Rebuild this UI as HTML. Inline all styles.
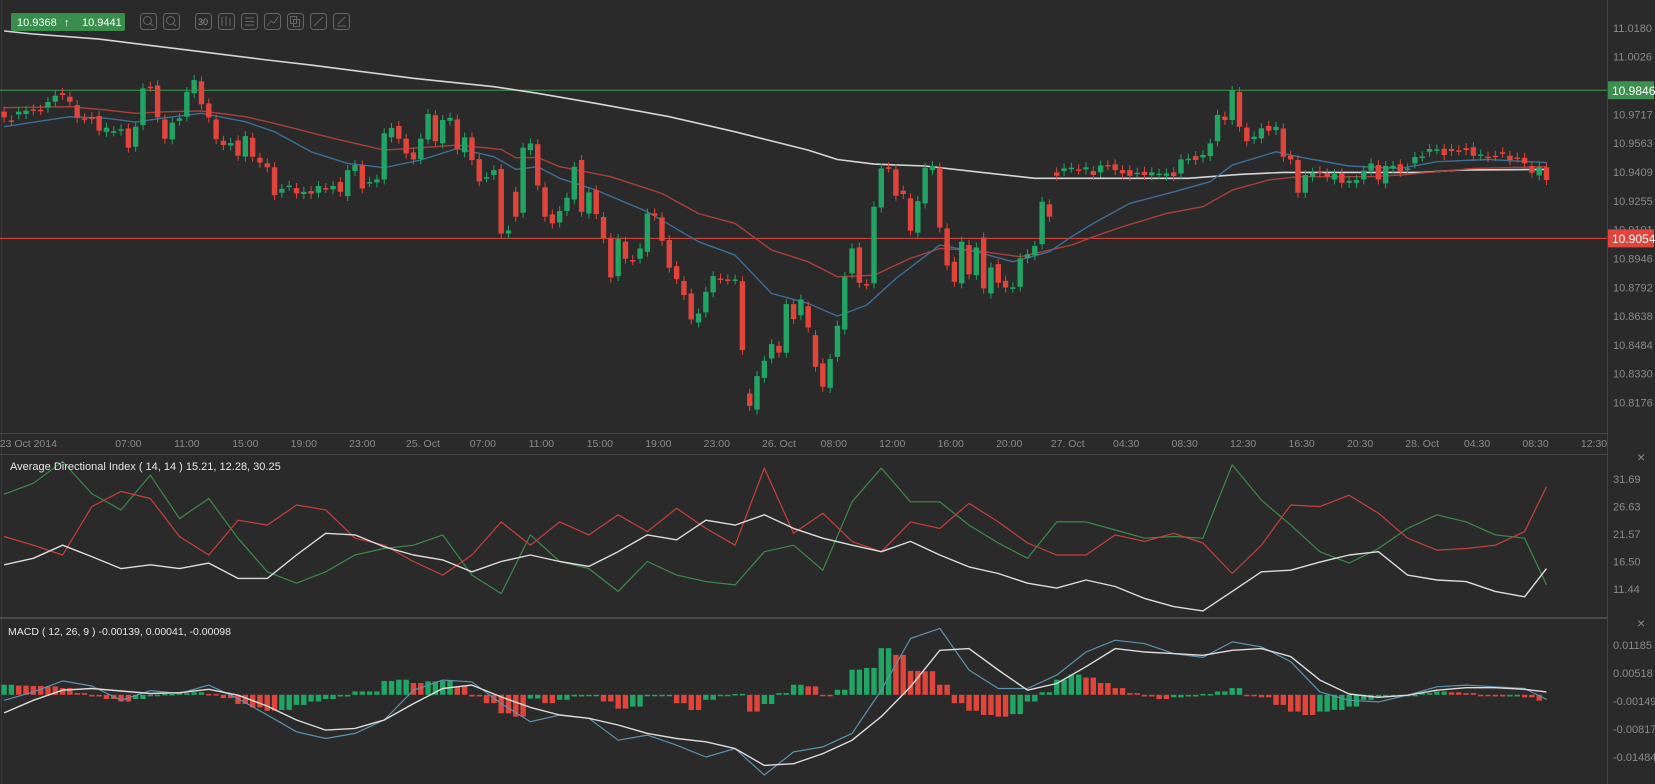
<!DOCTYPE html>
<html><head><meta charset="utf-8"><style>
html,body{margin:0;padding:0;background:#2a2a2a;}
svg{display:block;font-family:"Liberation Sans",sans-serif;}
</style></head><body>
<svg id="chart" width="1655" height="784" viewBox="0 0 1655 784">
<rect x="0" y="0" width="1655" height="784" fill="#2a2a2a"/>
<g id="grid">
<line x1="1607.5" y1="0" x2="1607.5" y2="784" stroke="#444" stroke-width="1"/>
<line x1="1.5" y1="0" x2="1.5" y2="784" stroke="#3a3a3a" stroke-width="1"/>
<line x1="0" y1="433.5" x2="1607" y2="433.5" stroke="#444" stroke-width="1"/>
<line x1="0" y1="454.5" x2="1607" y2="454.5" stroke="#444" stroke-width="1"/>
<line x1="0" y1="618" x2="1607" y2="618" stroke="#4a4a4a" stroke-width="2"/>
</g>
<g id="main"></g>
<g id="adx"></g>
<g id="macd"></g>
<g id="axes"></g>
<g>
<rect x="11" y="13" width="114" height="18" rx="2" fill="#3a8e4c"/>
<text x="17" y="26" fill="#fff" font-size="11">10.9368</text>
<text x="64" y="26" fill="#fff" font-size="11">↑</text>
<text x="82" y="26" fill="#fff" font-size="11">10.9441</text>
<g fill="none" stroke="#666" stroke-width="1">
<rect x="140.5" y="13.5" width="16" height="16" rx="3"/>
<rect x="163.5" y="13.5" width="16" height="16" rx="3"/>
<rect x="195.5" y="13.5" width="16" height="16" rx="3"/>
<rect x="218.5" y="13.5" width="16" height="16" rx="3"/>
<rect x="241.5" y="13.5" width="16" height="16" rx="3"/>
<rect x="264.5" y="13.5" width="16" height="16" rx="3"/>
<rect x="287.5" y="13.5" width="16" height="16" rx="3"/>
<rect x="310.5" y="13.5" width="16" height="16" rx="3"/>
<rect x="333.5" y="13.5" width="16" height="16" rx="3"/>
<circle cx="147.5" cy="20.5" r="4"/><line x1="150" y1="23" x2="153" y2="26"/>
<circle cx="170.5" cy="20.5" r="4"/><line x1="173" y1="23" x2="176" y2="26"/>
<line x1="245" y1="18" x2="254" y2="18"/><line x1="245" y1="21.5" x2="254" y2="21.5"/><line x1="245" y1="25" x2="254" y2="25"/>
<polyline points="267,26 271,21 274,23 278,17"/>
<rect x="290.5" y="16.5" width="6" height="7"/><rect x="293.5" y="19.5" width="6" height="7"/>
<line x1="314" y1="26" x2="323" y2="17"/><line x1="337" y1="26" x2="346" y2="26"/><line x1="338" y1="24" x2="345" y2="17"/>
<line x1="222" y1="17" x2="222" y2="26"/><line x1="226" y1="16" x2="226" y2="26"/><line x1="230" y1="18" x2="230" y2="26"/>
</g>
<text x="198" y="25" fill="#999" font-size="9">30</text>
<text x="10" y="470" fill="#e6e6e6" font-size="11">Average Directional Index ( 14, 14 ) 15.21, 12.28, 30.25</text>
<text x="8" y="635" fill="#e6e6e6" font-size="10.5">MACD ( 12, 26, 9 ) -0.00139, 0.00041, -0.00098</text>
<text x="1637" y="462" fill="#888" font-size="14">×</text>
<text x="1637" y="628" fill="#888" font-size="14">×</text>
</g>
</svg>
<script>
// ---- price data (pips above 10.8000) ----
const openPips = [1732,1685,1717,1719,1744,1742,1753,1785,1831,1812,
1767,1696,1703,1708,1624,1626,1630,1642,1544,1660,
1865,1872,1690,1583,1683,1705,1830,1894,1776,1690,
1576,1551,1578,1491,1592,1485,1455,1434,1298,1335,
1323,1291,1307,1298,1323,1316,1355,1280,1414,1444,
1355,1353,1369,1594,1655,1587,1514,1478,1583,1712,
1562,1683,1690,1514,1594,1478,1380,1393,1425,1080,
1303,1191,1526,1558,1327,1182,1139,1200,1262,1473,
1187,1312,1168,1057,852,1036,938,945,982,1187,
1166,1045,905,825,759,604,658,765,839,834,
834,825,224,138,308,411,479,442,702,643,
691,536,385,254,420,566,866,1005,809,813,
1219,1434,1423,1309,1268,1084,1241,1419,1432,1107,
929,813,1018,857,1059,759,916,827,791,795,
947,964,1023,1236,1407,1414,1432,1423,1423,1414,
1407,1446,1450,1419,1419,1405,1410,1391,1400,1389,
1407,1401,1476,1494,1487,1494,1574,1705,1687,1837,
1646,1585,1589,1655,1633,1642,1496,1473,1298,1384,
1414,1401,1369,1401,1351,1351,1369,1416,1446,1348,
1428,1450,1428,1455,1492,1517,1530,1533,1532,1525,
1537,1541,1496,1491,1496,1514,1496,1487,1485,1441,
1391,1434];
const closePips = [1701,1684,1732,1737,1737,1741,1783,1817,1821,1785,
1699,1695,1692,1630,1646,1627,1637,1539,1651,1856,
1864,1701,1587,1673,1696,1837,1901,1771,1701,1585,
1553,1564,1496,1601,1491,1459,1434,1285,1319,1336,
1294,1303,1293,1334,1322,1334,1303,1419,1446,1321,
1355,1369,1616,1644,1587,1508,1476,1587,1719,1574,
1687,1699,1530,1594,1473,1359,1381,1419,1080,1096,
1170,1539,1562,1337,1170,1134,1200,1271,1437,1196,
1300,1184,1054,845,1050,945,937,1000,1187,1175,
1041,897,836,750,620,652,768,852,838,833,
834,456,158,317,399,488,443,702,622,727,
577,367,260,408,586,848,1000,816,808,1223,
1428,1433,1282,1291,1095,1253,1432,1441,1112,909,
822,1036,861,1005,786,898,816,791,792,947,
968,1013,1250,1170,1389,1428,1432,1422,1434,1393,
1444,1445,1419,1401,1389,1405,1393,1407,1400,1401,
1387,1476,1480,1473,1500,1562,1714,1687,1844,1651,
1574,1598,1642,1630,1651,1491,1476,1298,1393,1405,
1405,1384,1398,1351,1362,1366,1416,1455,1369,1441,
1442,1410,1428,1489,1492,1532,1530,1500,1521,1524,
1526,1496,1503,1490,1495,1513,1473,1486,1455,1405,
1434,1366];
// moving averages (candle index, pips)
const maSlowIdx = [0,4,13,25,36,42,56,67,73,81,91,100,110,114,119,126,133,141,146,162,169,175,194,199,211];
const maSlowVal = [2163,2147,2120,2062,2008,1981,1910,1865,1830,1776,1705,1624,1526,1476,1451,1441,1410,1375,1375,1375,1396,1407,1407,1419,1423];
const maMidIdx = [0,9,14,18,22,27,33,37,45,52,59,62,68,70,73,76,83,90,95,100,105,110,114,119,124,128,133,139,146,149,153,159,164,168,173,177,187,191,201,211];
const maMidVal = [1753,1758,1740,1723,1731,1735,1705,1669,1589,1526,1544,1553,1530,1485,1487,1437,1384,1294,1187,1134,991,929,848,857,947,1000,988,955,1018,1062,1116,1187,1223,1312,1366,1384,1384,1393,1428,1437];
const maFastIdx = [0,9,14,18,22,27,33,37,42,47,52,57,62,67,70,73,76,81,88,95,100,105,110,114,118,122,128,133,138,143,146,149,154,160,165,168,174,177,184,191,196,203,211];
const maFastVal = [1651,1705,1696,1676,1699,1723,1678,1624,1517,1455,1432,1473,1535,1491,1423,1437,1375,1312,1196,1036,964,759,706,638,697,839,1018,982,929,982,1062,1134,1241,1303,1357,1446,1517,1491,1441,1428,1464,1476,1459];
const priceTicks = ["11.0180","11.0026","10.9717","10.9563","10.9409","10.9255","10.9101","10.8946","10.8792","10.8638","10.8484","10.8330","10.8176"];
const resistance = 10.9846, support = 10.9054;
// ADX (sampled every 4 candles)
const adxPlus = [28.9,30.9,34.9,29.0,26.0,32.4,24.4,28.1,20.8,14.6,12.5,14.6,17.7,18.9,19.5,21.4,14.0,10.6,21.4,16.5,15.2,11.0,16.5,14.0,12.8,12.2,18.3,19.5,14.9,27.5,33.7,27.5,27.5,23.2,19.9,17.1,23.8,23.8,22.3,20.8,21.1,20.8,34.3,27.8,23.2,18.3,16.2,18.9,22.6,25.1,23.8,21.4,20.8,12.2];
const adxMinus = [21.1,19.5,17.7,26.6,29.4,28.1,21.1,17.7,24.1,23.2,26.9,26.0,20.8,19.5,16.5,14.0,17.7,23.8,19.5,23.8,21.4,25.1,22.0,26.3,22.6,19.5,33.7,21.7,25.4,20.2,18.3,23.8,22.6,27.2,23.8,19.9,17.7,17.7,21.4,20.2,21.7,19.9,14.3,19.5,26.9,26.6,28.7,25.4,20.8,18.6,18.9,19.5,22.0,30.3];
const adxLine = [15.9,17.1,19.5,17.4,15.2,15.9,15.2,16.2,13.4,13.4,17.7,21.7,21.4,19.2,17.7,16.8,14.6,16.5,17.7,16.5,15.6,18.3,21.4,20.5,24.1,23.2,25.1,22.6,20.8,19.5,18.3,20.2,17.7,15.5,14.3,12.5,11.6,13.1,11.9,9.7,8.2,7.4,11.0,14.6,14.9,16.4,17.7,18.3,14.0,13.1,12.8,11.0,10.0,15.2];
const adxTicks = ["31.69","26.63","21.57","16.50","11.44"];
// MACD (x1e-4), lines every 4 candles, histogram every 2 candles
const macdLine = [-13,7,33,21,-13,10,3,23,-9,-48,-88,-104,-92,-60,11,35,31,-21,-64,-48,-56,-108,-96,-120,-148,-128,-191,-136,-124,-92,11,134,158,59,15,15,47,102,130,122,98,89,126,114,79,7,-13,-17,-1,19,23,19,15,-11];
const signalLine = [-43,-13,11,15,9,3,5,13,-1,-27,-60,-84,-80,-60,-21,15,23,-5,-30,-48,-56,-72,-92,-104,-112,-128,-168,-164,-140,-108,-52,19,106,110,59,11,27,67,110,102,98,94,106,110,91,35,2,-6,-1,11,17,17,13,7];
const histVals = [24,22,21,20,16,4,-4,-10,-16,-10,-2,2,4,6,2,-8,-22,-30,-38,-36,-24,-16,-10,-4,8,8,33,36,28,32,33,20,-4,-20,-44,-52,-9,-20,-12,-4,-2,-16,-33,-28,-2,0,-20,-36,-12,-2,2,-40,-22,4,24,20,-2,12,60,64,111,95,57,56,24,-20,-38,-48,-52,-46,-16,6,36,48,41,28,16,4,-4,-10,-6,-4,2,8,16,-2,-6,-24,-40,-48,-40,-36,-28,-12,-6,-3,-2,4,8,6,4,-2,-4,-4,-6,-14];
const macdTicks = ["0.01185","0.00518","-0.00149","-0.00817","-0.01484"];
const timeLabels = ["23 Oct 2014","07:00","11:00","15:00","19:00","23:00","25. Oct","07:00","11:00","15:00","19:00","23:00","26. Oct","08:00","12:00","16:00","20:00","27. Oct","04:30","08:30","12:30","16:30","20:30","28. Oct","04:30","08:30","12:30"];
const timeSlots = [-0.6,17,25,33,41,49,57.3,65.5,73.5,81.5,89.5,97.5,106,113.5,121.5,129.5,137.5,145.5,153.5,161.5,169.5,177.5,185.5,194,201.5,209.5,217.5];

const NS = "http://www.w3.org/2000/svg";
const X0 = 4.1, DX = 7.31;
const x = i => X0 + DX * i;
const yP = p => 90.3 + (10.9846 - p) / 0.000535;
const yPip = w => yP(10.8 + w / 10000);
const yAdx = v => 479 + (31.69 - v) * 5.432;
const yMacd = m => 694.8 - m * 0.42;
function mk(tag, attrs, parent) { const e = document.createElementNS(NS, tag); for (const k in attrs) e.setAttribute(k, attrs[k]); parent.appendChild(e); return e; }
const main = document.getElementById('main'), adx = document.getElementById('adx'), macd = document.getElementById('macd'), axes = document.getElementById('axes');

// horizontal level lines
let l1 = mk('line', {x1:0, x2:1607, y1:yP(resistance), y2:yP(resistance), stroke:'#3f9a50', 'stroke-width':1}, main);


let l2 = mk('line', {x1:0, x2:1607, y1:yP(support), y2:yP(support), stroke:'#e0453c', 'stroke-width':1}, main);



function maPath(idx, val, color, w, name) {
  const d = idx.map((k, n) => (n ? 'L' : 'M') + x(k).toFixed(1) + ',' + yPip(val[n]).toFixed(1)).join('');
  const p = mk('path', {d: d, fill:'none', stroke: color, 'stroke-width': w, 'stroke-linejoin':'round'}, main);
  
  
}
maPath(maSlowIdx, maSlowVal, '#d6d6d6', 1.6, 'ma-slow-line');
maPath(maMidIdx, maMidVal, '#a8403a', 1.4, 'ma-mid-line');
maPath(maFastIdx, maFastVal, '#3d6e98', 1.4, 'ma-fast-line');

for (let k = 0; k < closePips.length; k++) {
  const o = openPips[k], c = closePips[k];
  const up = c >= o;
  const col = up ? '#22a464' : '#e0453c';
  const yt = yPip(Math.max(o, c)), yb = yPip(Math.min(o, c));
  const g = mk('g', {}, main);
  
  
  mk('line', {x1:x(k), x2:x(k), y1:yt - 5, y2:yb + 5, stroke:col, 'stroke-width':1}, g);
  mk('rect', {x:x(k) - 2.7, y:yt, width:5.4, height:Math.max(1.5, yb - yt), fill:col}, g);
}

// price axis
const tickYs = [28,57,114,143,173,202,230,258,287,317,346,375,403];
priceTicks.forEach((t, n) => {
  const e = mk('text', {x:1613, y:yP(parseFloat(t)) + 4, fill:'#8a8a8a', 'font-size':11}, axes);
  e.textContent = t;
  
  
});
[[resistance, '#3d8f4f', 'resistance-price-badge'], [support, '#e0453c', 'support-price-badge']].forEach(([p, col, name]) => {
  const g = mk('g', {}, axes);
  
  
  mk('rect', {x:1608, y:yP(p) - 9, width:46, height:18, rx:1, fill:col}, g);
  const t = mk('text', {x:1612, y:yP(p) + 4.5, fill:'#fff', 'font-size':12}, g);
  t.textContent = p.toFixed(4);
});
// time axis
timeLabels.forEach((t, n) => {
  const e = mk('text', {x:x(timeSlots[n]), y:447, fill:'#8a8a8a', 'font-size':10.5, 'text-anchor': n === 0 ? 'start' : 'middle'}, axes);
  e.textContent = t;
  
  
});

// ADX
function linePath(arr, yf, color, w, name, parent, step) {
  const d = arr.map((v, j) => (j ? 'L' : 'M') + x(Math.min(step * j, 211)).toFixed(1) + ',' + yf(v).toFixed(1)).join('');
  const p = mk('path', {d: d, fill:'none', stroke:color, 'stroke-width':w, 'stroke-linejoin':'round'}, parent);
  
  
}
linePath(adxPlus, yAdx, '#3c8a4a', 1.2, 'plus-di-line', adx, 4);
linePath(adxMinus, yAdx, '#c8403a', 1.2, 'minus-di-line', adx, 4);
linePath(adxLine, yAdx, '#dcdcdc', 1.4, 'adx-line', adx, 4);
adxTicks.forEach(t => {
  const e = mk('text', {x:1613, y:yAdx(parseFloat(t)) + 4, fill:'#8a8a8a', 'font-size':11}, axes);
  e.textContent = t;
  
  
});

// MACD
histVals.forEach((v, i) => {
  const prev = i ? histVals[i - 1] : v;
  const col = v >= prev ? '#22a464' : '#e0453c';
  const y0 = yMacd(0), y1 = yMacd(v);
  const r = mk('rect', {x:x(2 * i) - 2.7, y:Math.min(y0, y1), width:5.4, height:Math.max(1.5, Math.abs(y1 - y0)), fill:col}, macd);
  
  
  if (i < histVals.length - 1) {
    const r2 = mk('rect', {x:x(2 * i + 1) - 2.7, y:Math.min(y0, y1), width:5.4, height:Math.max(1.5, Math.abs(y1 - y0)), fill:col}, macd);
    
    
  }
});
linePath(macdLine, yMacd, '#5d93ad', 1.2, 'macd-line', macd, 4);
linePath(signalLine, yMacd, '#dcdcdc', 1.4, 'signal-line', macd, 4);
macdTicks.forEach(t => {
  const e = mk('text', {x:1613, y:yMacd(parseFloat(t) * 10000) + 4, fill:'#8a8a8a', 'font-size':11}, axes);
  e.textContent = t;
  
  
});
</script>
</body></html>
